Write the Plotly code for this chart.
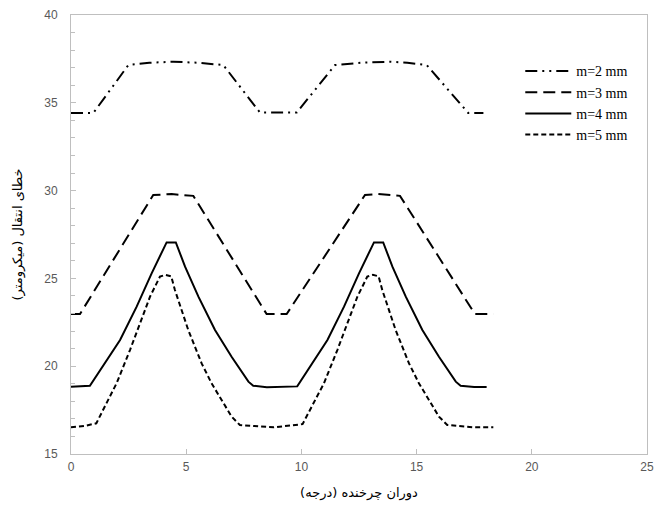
import plotly.graph_objects as go

# m = 2 mm
x_m2 = [0, 0.97, 2.49, 3.4, 4.44, 5.5, 6.61, 8.2, 9.8, 11.46, 12.6, 13.85, 14.6, 15.44, 17.24, 17.9]
y_m2 = [34.42, 34.42, 37.15, 37.28, 37.34, 37.28, 37.15, 34.45, 34.45, 37.15, 37.28, 37.34, 37.28, 37.15, 34.42, 34.42]

# m = 3 mm
x_m3 = [0, 0.39, 3.57, 4.37, 5.31, 8.49, 9.36, 12.76, 13.34, 14.28, 17.53, 18.33]
y_m3 = [22.97, 22.97, 29.75, 29.8, 29.7, 22.97, 22.97, 29.75, 29.8, 29.7, 22.97, 22.97]

# m = 4 mm
x_m4 = [0, 0.82, 2.13, 2.85, 3.5, 4.15, 4.55, 4.95, 5.53, 6.25, 6.97, 7.7, 7.91, 8.5, 9.82,
        11.13, 11.85, 12.5, 13.15, 13.55, 13.95, 14.53, 15.25, 15.97, 16.7, 16.91, 17.5, 18.04]
y_m4 = [18.83, 18.89, 21.49, 23.39, 25.29, 27.05, 27.05, 25.67, 23.96, 22.06, 20.54, 19.12, 18.89, 18.8, 18.85,
        21.49, 23.39, 25.29, 27.05, 27.05, 25.67, 23.96, 22.06, 20.54, 19.12, 18.89, 18.82, 18.82]

# m = 5 mm
x_m5 = [0, 0.6, 1.1, 1.98, 2.56, 3.0, 3.43, 3.86, 4.1, 4.35, 4.51, 5.09, 5.67, 6.1, 6.54, 6.97, 7.33, 7.84, 8.8,
        10.05, 10.98, 11.56, 12.0, 12.43, 12.86, 13.1, 13.35, 13.51, 14.09, 14.67, 15.1, 15.54, 15.97, 16.33, 16.84, 17.5, 18.33]
y_m5 = [16.52, 16.6, 16.75, 19.03, 20.92, 22.44, 23.96, 25.1, 25.2, 25.12, 24.34, 22.06, 20.16, 19.03, 18.08, 17.13, 16.65, 16.6, 16.52,
        16.7, 19.03, 20.92, 22.44, 23.96, 25.1, 25.2, 25.12, 24.34, 22.06, 20.16, 19.03, 18.08, 17.13, 16.65, 16.6, 16.52, 16.52]

series = [
    ("m=2 mm", x_m2, y_m2, "12px,5px,2px,5px,2px,5px"),
    ("m=3 mm", x_m3, y_m3, "12px,6px"),
    ("m=4 mm", x_m4, y_m4, "solid"),
    ("m=5 mm", x_m5, y_m5, "5px,3px"),
]

fig = go.Figure()
for name, xs, ys, dash in series:
    fig.add_trace(go.Scatter(x=xs, y=ys, mode="lines", name=name,
                             line=dict(color="black", width=2, dash=dash)))

axis_line = "#bfbfbf"
tick_font = dict(family="Liberation Sans, Arial, sans-serif", size=12, color="#595959")

fig.update_layout(
    width=666, height=510,
    margin=dict(l=71, r=19, t=15, b=56),
    plot_bgcolor="white", paper_bgcolor="white",
    showlegend=True,
    legend=dict(x=0.78, y=0.908, xanchor="left", yanchor="top",
                font=dict(family="Liberation Serif, Times New Roman, serif", size=14, color="black"),
                bgcolor="rgba(0,0,0,0)", itemwidth=46, tracegroupgap=0),
    xaxis=dict(range=[0, 25], tickvals=[0, 5, 10, 15, 20, 25], showgrid=False, zeroline=False,
               automargin=False,
               showline=True, linecolor=axis_line, linewidth=1, mirror=True,
               ticks="inside", ticklen=5, tickcolor=axis_line, tickfont=tick_font,
               ticklabelstandoff=2,
               title=dict(text="دوران چرخنده (درجه)",
                          font=dict(family="DejaVu Sans, sans-serif", size=13, color="black"),
                          standoff=14)),
    yaxis=dict(range=[15, 40], tickvals=[15, 20, 25, 30, 35, 40], showgrid=False, zeroline=False,
               automargin=False,
               showline=True, linecolor=axis_line, linewidth=1, mirror=True,
               ticks="inside", ticklen=5, tickcolor=axis_line, tickfont=tick_font,
               ticklabelstandoff=10,
               minor=dict(dtick=1, ticks="inside", ticklen=4, tickcolor=axis_line, showgrid=False),
               title=dict(text="خطای انتقال (میکرومتر)",
                          font=dict(family="DejaVu Sans, sans-serif", size=13, color="black"),
                          standoff=18)),
)

fig.write_html("out.html", config={"displayModeBar": False},
               post_script="document.body.style.margin='0';")
